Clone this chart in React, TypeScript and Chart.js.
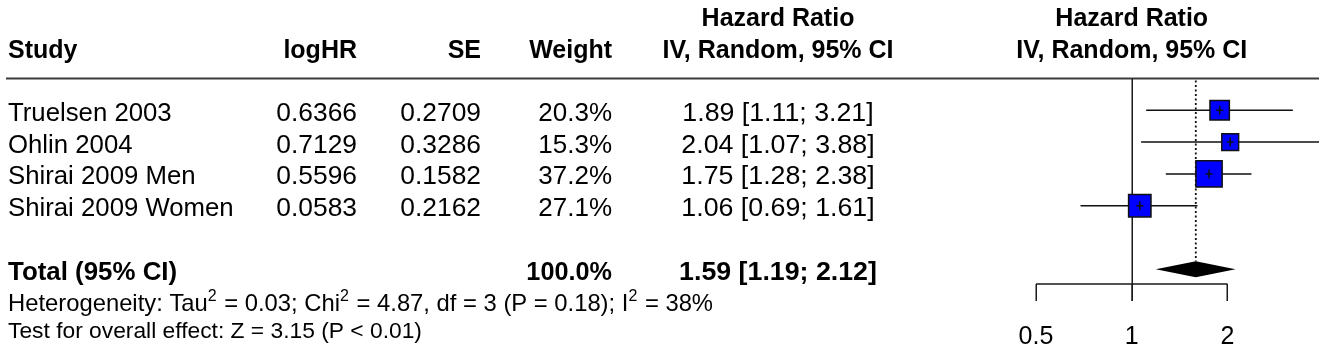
import { useEffect, useRef } from "react";
import { Chart, registerables } from "chart.js";

Chart.register(...registerables);

// ---- Study data ----
const studies = ["Truelsen 2003", "Ohlin 2004", "Shirai 2009 Men", "Shirai 2009 Women"];
const logHR = [0.6366, 0.7129, 0.5596, 0.0583];
const seLogHR = [0.2709, 0.3286, 0.1582, 0.2162];
const weights = [20.3, 15.3, 37.2, 27.1];
const hazardRatios = [1.89, 2.04, 1.75, 1.06];
const ciLower = [1.11, 1.07, 1.28, 0.69];
const ciUpper = [3.21, 3.88, 2.38, 1.61];

// ---- Pooled (random effects) estimate ----
const pooledHR = 1.59;
const pooledLower = 1.19;
const pooledUpper = 2.12;
const pooledWeight = 100.0;

// ---- Heterogeneity / overall effect statistics ----
const tau2 = 0.03;
const chi2 = 4.87;
const hetDf = 3;
const hetP = 0.18;
const i2 = 38;
const zValue = 3.15;
const overallP = "< 0.01";

// ---- Axis ----
const axisTicks = [0.5, 1, 2];
const axisTickLabels = ["0.5", "1", "2"];

// Row positions on the vertical scale
const studyRows = [1, 2, 3, 4];
const totalRow = 6;
const axisRow = 6.46;
const axisBottomRow = 7;

const FONT_FAMILY = '"Liberation Sans", Arial, Helvetica, sans-serif';
const font = (size: number, bold = false) => `${bold ? "bold " : ""}${size}px ${FONT_FAMILY}`;

type Align = "left" | "right" | "center";

// Draws text with a slight horizontal stretch, anchored by alignment
function drawText(ctx: CanvasRenderingContext2D, text: string, x: number, y: number, align: Align, sx = 1) {
  const w = ctx.measureText(text).width * sx;
  const left = align === "left" ? x : align === "right" ? x - w : x - w / 2;
  ctx.save();
  ctx.textAlign = "left";
  ctx.translate(left, y);
  ctx.scale(sx, 1);
  ctx.fillText(text, 0, 0);
  ctx.restore();
}

type Part = [string, boolean];

function drawRich(ctx: CanvasRenderingContext2D, parts: Part[], x: number, baseline: number, size: number, supSize: number) {
  let cx = x;
  ctx.textAlign = "left";
  for (const [text, sup] of parts) {
    ctx.font = font(sup ? supSize : size);
    ctx.fillText(text, cx, sup ? baseline - size * 0.42 : baseline);
    cx += ctx.measureText(text).width + (sup ? 1 : 0);
  }
}

const forestPlugin = {
  id: "forestLayer",
  beforeDatasetsDraw(chart: any) {
    const { ctx } = chart;
    const x = chart.scales.x;
    const y = chart.scales.y;
    ctx.save();

    // header rule across the whole table
    ctx.strokeStyle = "#3c3c3c";
    ctx.lineWidth = 2;
    ctx.beginPath();
    ctx.moveTo(6, y.getPixelForValue(0));
    ctx.lineTo(x.right, y.getPixelForValue(0));
    ctx.stroke();

    // line of no effect (HR = 1)
    ctx.strokeStyle = "#1a1a1a";
    ctx.lineWidth = 1.5;
    const x1 = Math.round(x.getPixelForValue(1)) + 0.25;
    ctx.beginPath();
    ctx.moveTo(x1, y.getPixelForValue(0));
    ctx.lineTo(x1, y.getPixelForValue(axisBottomRow));
    ctx.stroke();

    // pooled estimate reference (dotted)
    const xp = x.getPixelForValue(pooledHR);
    ctx.setLineDash([2, 2.5]);
    ctx.lineWidth = 1.8;
    ctx.strokeStyle = "#111";
    ctx.beginPath();
    ctx.moveTo(xp, y.getPixelForValue(0) + 2);
    ctx.lineTo(xp, y.getPixelForValue(totalRow) - 8);
    ctx.stroke();
    ctx.setLineDash([]);

    // confidence intervals
    ctx.strokeStyle = "#111";
    ctx.lineWidth = 1.5;
    studyRows.forEach((row, i) => {
      const py = y.getPixelForValue(row);
      ctx.beginPath();
      ctx.moveTo(x.getPixelForValue(ciLower[i]), py);
      ctx.lineTo(x.getPixelForValue(ciUpper[i]), py);
      ctx.stroke();
    });
    ctx.restore();
  },
  afterDatasetsDraw(chart: any) {
    const { ctx } = chart;
    const x = chart.scales.x;
    const y = chart.scales.y;
    ctx.save();

    // point estimate marks inside the squares
    ctx.strokeStyle = "#111";
    ctx.lineWidth = 1.5;
    studyRows.forEach((row, i) => {
      const px = x.getPixelForValue(hazardRatios[i]);
      const py = y.getPixelForValue(row);
      ctx.beginPath();
      ctx.moveTo(px, py - 4.5);
      ctx.lineTo(px, py + 4.5);
      ctx.moveTo(px - 3.5, py);
      ctx.lineTo(px + 3.5, py);
      ctx.stroke();
    });

    // pooled diamond
    const ty = y.getPixelForValue(totalRow);
    ctx.fillStyle = "#000";
    ctx.beginPath();
    ctx.moveTo(x.getPixelForValue(pooledLower), ty);
    ctx.lineTo(x.getPixelForValue(pooledHR), ty - 8);
    ctx.lineTo(x.getPixelForValue(pooledUpper), ty);
    ctx.lineTo(x.getPixelForValue(pooledHR), ty + 8);
    ctx.closePath();
    ctx.fill();

    // x axis
    const ay = y.getPixelForValue(axisRow);
    const ab = y.getPixelForValue(axisBottomRow);
    ctx.strokeStyle = "#1a1a1a";
    ctx.lineWidth = 1.5;
    ctx.beginPath();
    ctx.moveTo(x.getPixelForValue(axisTicks[0]), ay);
    ctx.lineTo(x.getPixelForValue(axisTicks[axisTicks.length - 1]), ay);
    axisTicks.forEach((t) => {
      const tx = Math.round(x.getPixelForValue(t)) + 0.25;
      ctx.moveTo(tx, ay);
      ctx.lineTo(tx, ab);
    });
    ctx.stroke();

    ctx.fillStyle = "#000";
    ctx.textBaseline = "alphabetic";
    ctx.font = font(25);
    axisTicks.forEach((t, i) => {
      drawText(ctx, axisTickLabels[i], x.getPixelForValue(t), ab + 43, "center", 1);
    });

    // forest column header
    const xc = x.getPixelForValue(1);
    ctx.font = font(25, true);
    drawText(ctx, "Hazard Ratio", xc, 26, "center");
    drawText(ctx, "IV, Random, 95% CI", xc, 58, "center");

    // table header
    const colLog = 357;
    const colSE = 481;
    const colW = 612;
    const colHR = 778;
    drawText(ctx, "Study", 8, 58, "left");
    drawText(ctx, "logHR", colLog, 58, "right");
    drawText(ctx, "SE", colSE, 58, "right");
    drawText(ctx, "Weight", colW, 58, "right");
    drawText(ctx, "Hazard Ratio", colHR, 26, "center");
    drawText(ctx, "IV, Random, 95% CI", colHR, 58, "center");

    // study rows
    ctx.font = font(25);
    studyRows.forEach((row, i) => {
      const by = y.getPixelForValue(row) + 10.5;
      drawText(ctx, studies[i], 8, by, "left", 1.03);
      drawText(ctx, logHR[i].toFixed(4), colLog, by, "right", 1.055);
      drawText(ctx, seLogHR[i].toFixed(4), colSE, by, "right", 1.055);
      drawText(ctx, `${weights[i].toFixed(1)}%`, colW, by, "right", 1.04);
      drawText(
        ctx,
        `${hazardRatios[i].toFixed(2)} [${ciLower[i].toFixed(2)}; ${ciUpper[i].toFixed(2)}]`,
        colHR,
        by,
        "center",
        1.07
      );
    });

    // total row
    const tb = ty + 11;
    ctx.font = font(25, true);
    drawText(ctx, "Total (95% CI)", 8, tb, "left", 1.035);
    drawText(ctx, `${pooledWeight.toFixed(1)}%`, colW, tb, "right", 1.01);
    drawText(ctx, `${pooledHR.toFixed(2)} [${pooledLower.toFixed(2)}; ${pooledUpper.toFixed(2)}]`, colHR, tb, "center", 1.07);

    // heterogeneity and overall effect
    drawRich(
      ctx,
      [
        ["Heterogeneity: Tau", false],
        ["2", true],
        [` = ${tau2.toFixed(2)}; Chi`, false],
        ["2", true],
        [` = ${chi2.toFixed(2)}, df = ${hetDf} (P = ${hetP.toFixed(2)}); I`, false],
        ["2", true],
        [` = ${i2}%`, false],
      ],
      8,
      311,
      23.8,
      16
    );
    drawRich(ctx, [[`Test for overall effect: Z = ${zValue.toFixed(2)} (P ${overallP})`, false]], 8, 337.5, 22.8, 16);

    ctx.restore();
  },
};

export default function App() {
  const canvasRef = useRef<HTMLCanvasElement | null>(null);

  useEffect(() => {
    const canvas = canvasRef.current;
    if (!canvas) return;
    // square side grows with the square root of the study weight
    const boxSide = weights.map((w) => 4.3 * Math.sqrt(w));
    const chart = new Chart(canvas, {
      type: "scatter",
      data: {
        datasets: [
          {
            data: hazardRatios.map((hr, i) => ({ x: hr, y: studyRows[i] })),
            pointStyle: "rect",
            pointRadius: boxSide.map((s) => s / (2 * Math.SQRT1_2)),
            pointHoverRadius: boxSide.map((s) => s / (2 * Math.SQRT1_2)),
            backgroundColor: "#0000ff",
            borderColor: "#111",
            borderWidth: 1.5,
            clip: false as any,
          },
        ],
      },
      options: {
        animation: false,
        responsive: false,
        devicePixelRatio: 1,
        events: [],
        layout: { autoPadding: false, padding: { left: 1036, right: 6, top: 78.5, bottom: 51.9 } },
        plugins: { legend: { display: false }, tooltip: { enabled: false } },
        scales: {
          x: { type: "logarithmic", min: 0.5, max: 3.88, bounds: "data", display: false },
          y: { type: "linear", min: 0, max: 7, reverse: true, display: false },
        },
      },
      plugins: [forestPlugin],
    });
    return () => chart.destroy();
  }, []);

  return (
    <div style={{ position: "absolute", left: 0, top: 0, width: 1325, height: 353, background: "#fff" }}>
      <canvas ref={canvasRef} width={1325} height={353} />
    </div>
  );
}
